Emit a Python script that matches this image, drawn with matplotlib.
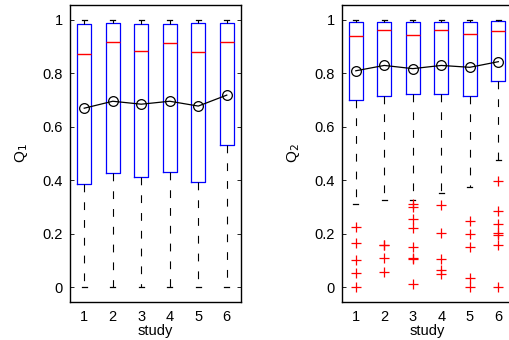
import numpy as np
import matplotlib.pyplot as plt

plt.rcParams['font.family'] = ['Liberation Sans', 'DejaVu Sans']

studies = [1, 2, 3, 4, 5, 6]

# Q1 box stats
q1_low = [0.0, 0.0, 0.0, 0.0, 0.0, 0.0]
q1_p25 = [0.388, 0.429, 0.411, 0.431, 0.394, 0.534]
q1_med = [0.873, 0.916, 0.885, 0.913, 0.882, 0.916]
q1_p75 = [0.985, 0.988, 0.986, 0.986, 0.987, 0.990]
q1_high = [1.0, 1.0, 1.0, 1.0, 1.0, 1.0]
q1_mean = [0.670, 0.696, 0.685, 0.696, 0.678, 0.719]

# Q2 box stats
q2_low = [0.312, 0.327, 0.325, 0.354, 0.374, 0.476]
q2_p25 = [0.701, 0.716, 0.722, 0.724, 0.717, 0.772]
q2_med = [0.940, 0.961, 0.945, 0.963, 0.946, 0.959]
q2_p75 = [0.993, 0.993, 0.993, 0.993, 0.993, 0.996]
q2_high = [1.0, 1.0, 1.0, 1.0, 1.0, 1.0]
q2_mean = [0.810, 0.830, 0.818, 0.830, 0.823, 0.844]
q2_fliers = [
    [0.224, 0.165, 0.102, 0.055, 0.0],
    [0.157, 0.160, 0.108, 0.059],
    [0.310, 0.300, 0.256, 0.223, 0.150, 0.111, 0.106, 0.012],
    [0.307, 0.202, 0.105, 0.065, 0.050],
    [0.247, 0.198, 0.152, 0.036, 0.0],
    [0.399, 0.284, 0.236, 0.204, 0.197, 0.160, 0.0],
]


def make_stats(low, p25, med, p75, high, fliers=None):
    stats = []
    for i in range(len(low)):
        stats.append({'whislo': low[i], 'q1': p25[i], 'med': med[i], 'q3': p75[i],
                      'whishi': high[i], 'fliers': fliers[i] if fliers else []})
    return stats


def draw(ax, stats, means, label):
    ax.bxp(stats, positions=studies, widths=0.5, showfliers=True,
           boxprops=dict(color='blue', linewidth=0.9),
           medianprops=dict(color='red', linewidth=1.0),
           whiskerprops=dict(color='black', linestyle=(0, (7, 9)), linewidth=0.8),
           capprops=dict(color='black', linewidth=0.9),
           capwidths=0.18,
           flierprops=dict(marker='+', markeredgecolor='red', markersize=7, markeredgewidth=0.9,
                           linestyle='none'))
    ax.plot(studies, means, color='black', linewidth=0.9, marker='o', markersize=7,
            markerfacecolor='none', markeredgecolor='black', markeredgewidth=0.9)
    ax.set_xlim(0.5, 6.5)
    ax.set_ylim(-0.054, 1.056)
    ax.set_yticks([0, 0.2, 0.4, 0.6, 0.8, 1])
    ax.set_yticklabels(['0', '0.2', '0.4', '0.6', '0.8', '1'])
    ax.set_xticks(studies)
    ax.set_xticklabels([str(s) for s in studies])
    ax.tick_params(axis='y', direction='in', right=True, length=3, width=0.6, labelsize=10.5, pad=5)
    ax.tick_params(axis='x', length=0, labelsize=10.5, pad=6)
    ax.set_xlabel('study', fontsize=10.5, labelpad=0)
    ax.set_ylabel(label, fontsize=11, labelpad=9)
    for s in ax.spines.values():
        s.set_linewidth(1.0)


fig = plt.figure(figsize=(5.09, 3.40), dpi=100)
ax1 = fig.add_axes([0.1375, 0.1126, 0.336, 0.8726])
ax2 = fig.add_axes([0.671, 0.1126, 0.336, 0.8726])

draw(ax1, make_stats(q1_low, q1_p25, q1_med, q1_p75, q1_high), q1_mean, 'Q$_1$')
draw(ax2, make_stats(q2_low, q2_p25, q2_med, q2_p75, q2_high, q2_fliers), q2_mean, 'Q$_2$')

fig.savefig('out.png', dpi=100)
